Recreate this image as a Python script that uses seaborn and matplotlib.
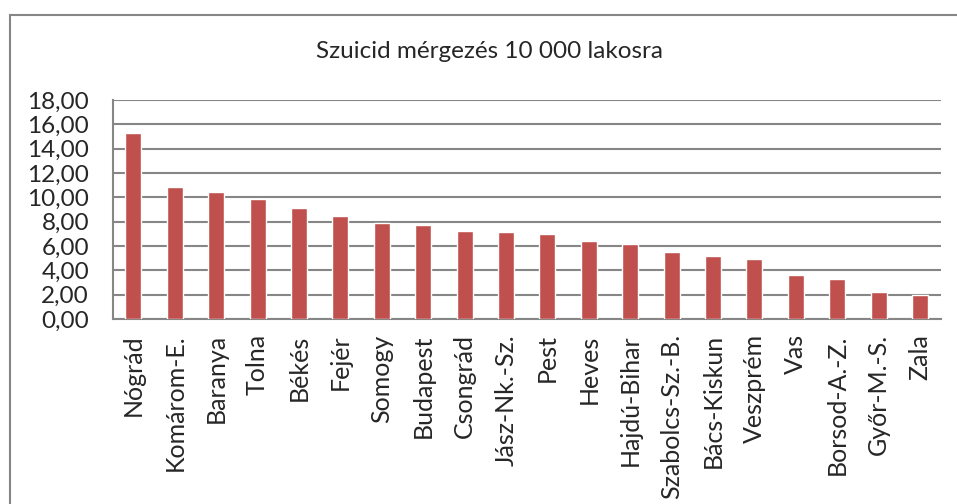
import matplotlib
matplotlib.use("Agg")
import matplotlib.pyplot as plt
import matplotlib.patches as patches
from matplotlib.ticker import FixedLocator, FuncFormatter
import pandas as pd
import seaborn as sns

# Adatok
megyek = ["Nógrád", "Komárom-E.", "Baranya", "Tolna", "Békés", "Fejér", "Somogy",
          "Budapest", "Csongrád", "Jász-Nk.-Sz.", "Pest", "Heves", "Hajdú-Bihar",
          "Szabolcs-Sz.-B.", "Bács-Kiskun", "Veszprém", "Vas", "Borsod-A.-Z.",
          "Győr-M.-S.", "Zala"]
ertekek = [15.29, 10.82, 10.41, 9.86, 9.10, 8.49, 7.85, 7.70, 7.23, 7.12, 6.99,
           6.38, 6.19, 5.51, 5.15, 4.96, 3.59, 3.26, 2.22, 1.95]
cim = "Szuicid mérgezés 10 000 lakosra"

df = pd.DataFrame({"Megye": megyek, "Érték": ertekek})

sns.set_style("white")
plt.rcParams["font.family"] = ["Lato", "DejaVu Sans"]

szurke = "#868686"
fig = plt.figure(figsize=(9.57, 5.04), dpi=100)
ax = fig.add_axes([112.7 / 957, 1 - 319 / 504, (940.7 - 112.7) / 957, 219 / 504])

sns.barplot(data=df, x="Megye", y="Érték", color="#C0504D", width=0.39,
            saturation=1, ax=ax, zorder=3)

ax.set_xlim(-0.5, len(megyek) - 0.5)
ax.set_ylim(0, 18)
ax.set_yticks(range(0, 19, 2))
ax.yaxis.set_major_formatter(FuncFormatter(lambda v, p: f"{v:.2f}".replace(".", ",")))
ax.grid(axis="y", color=szurke, linewidth=1.5, zorder=0)
ax.set_axisbelow(True)

for s in ["top", "right"]:
    ax.spines[s].set_visible(False)
for s in ["left", "bottom"]:
    ax.spines[s].set_color(szurke)
    ax.spines[s].set_linewidth(1.5)

ax.tick_params(axis="y", length=6, width=1.5, color=szurke, labelsize=17.5, pad=11)
ax.tick_params(axis="x", which="major", length=0, labelsize=18, pad=11, labelrotation=90)
ax.xaxis.set_minor_locator(FixedLocator([i - 0.5 for i in range(len(megyek) + 1)]))
ax.tick_params(axis="x", which="minor", length=6, width=1.5, color=szurke)
ax.set_xlabel("")
ax.set_ylabel("")

fig.text(490 / 957, 1 - 51 / 504, cim, ha="center", va="center", fontsize=17.5)

keret = patches.Rectangle((10 / 957, -0.1), 2, 1 - 15 / 504 + 0.1, transform=fig.transFigure,
                          fill=False, edgecolor=szurke, linewidth=1.5)
fig.patches.append(keret)

fig.savefig("out.png", dpi=100)
